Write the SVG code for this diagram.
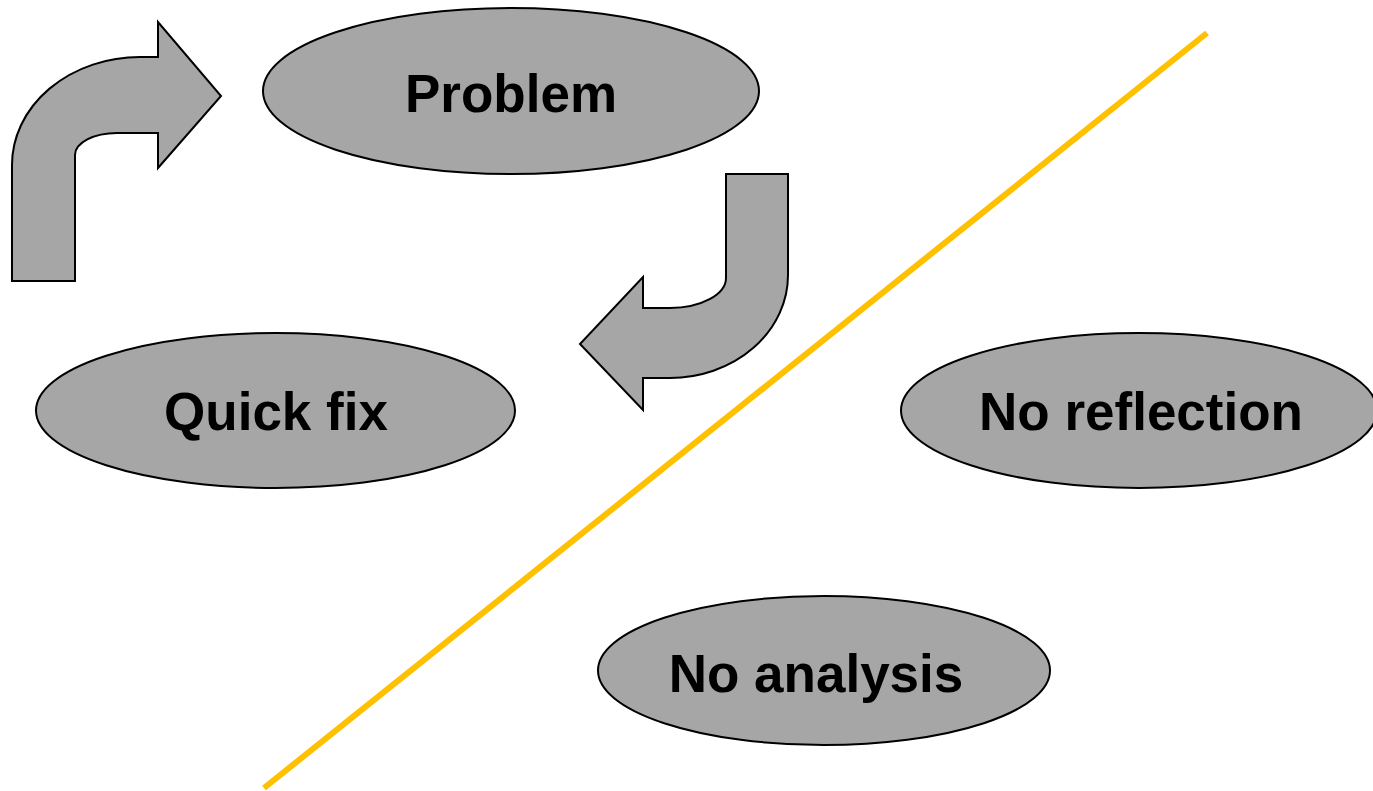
<svg xmlns="http://www.w3.org/2000/svg" width="1373" height="791" viewBox="0 0 1373 791">
<style>
.shape{fill:#a6a6a6;stroke:#000;stroke-width:2}
.lbl{font-family:"Liberation Sans",Arial,sans-serif;font-weight:bold;font-size:53px;fill:#000;text-anchor:middle}
</style>
<rect width="1373" height="791" fill="#fff"/>
<g id="connectors">
<path id="arrow-up-right" class="shape" d="M12,281 L12,165 A128,108 0 0 1 140,57 L158,57 L158,22 L221,96 L158,168 L158,133 L117,133 A42,22 0 0 0 75,155 L75,281 Z"/>
<path id="arrow-down-left" class="shape" d="M726,174 L788,174 L788,275 A118,103 0 0 1 670,378 L643,378 L643,410 L580,344 L643,277 L643,308 L670,308 A56,30 0 0 0 726,278 Z"/>
<line id="divider" x1="1207" y1="33" x2="264" y2="788" stroke="#ffc000" stroke-width="6"/>
</g>
<g id="node-problem">
<ellipse class="shape" cx="511" cy="91" rx="248" ry="83"/>
<text class="lbl" x="511" y="112">Problem</text>
</g>
<g id="node-quickfix">
<ellipse class="shape" cx="275.5" cy="410.5" rx="239.5" ry="77.5"/>
<text class="lbl" x="276" y="430">Quick fix</text>
</g>
<g id="node-noreflection">
<ellipse class="shape" cx="1139" cy="410.5" rx="238" ry="77.5"/>
<text class="lbl" x="1141" y="430">No reflection</text>
</g>
<g id="node-noanalysis">
<ellipse class="shape" cx="824" cy="670.5" rx="226" ry="74.5"/>
<text class="lbl" x="816" y="692">No analysis</text>
</g>
</svg>
